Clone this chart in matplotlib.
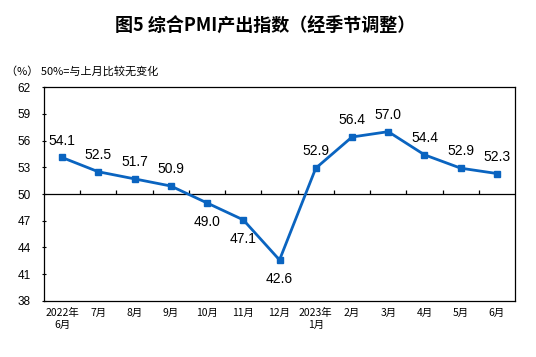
import matplotlib.pyplot as plt
import numpy as np

plt.rcParams['font.family'] = ['Liberation Sans', 'Noto Sans CJK SC', 'DejaVu Sans']

months = ['2022年\n6月', '7月', '8月', '9月', '10月', '11月', '12月',
          '2023年\n1月', '2月', '3月', '4月', '5月', '6月']
pmi = [54.1, 52.5, 51.7, 50.9, 49.0, 47.1, 42.6, 52.9, 56.4, 57.0, 54.4, 52.9, 52.3]
yticks = [38, 41, 44, 47, 50, 53, 56, 59, 62]

fig = plt.figure(figsize=(5.36, 3.57), dpi=100)
ax = fig.add_axes([0.082, 0.157, 0.879, 0.599])
x = np.arange(len(pmi))
blue = '#0a64c0'

ax.plot(x, pmi, color=blue, lw=2, marker='s', ms=5, zorder=3)
ax.axhline(50, color='black', lw=0.9, zorder=2)
# small tick marks on the 50 line between months
ax.vlines(x[:-1] + 0.5, 50, 50.45, color='black', lw=0.9, zorder=2)

for i, v in enumerate(pmi):
    if v < 50:
        ax.annotate(f'{v:.1f}', (i, v), xytext=(0, -9), textcoords='offset points',
                    ha='center', va='top', fontsize=10)
    else:
        ax.annotate(f'{v:.1f}', (i, v), xytext=(0, 7), textcoords='offset points',
                    ha='center', va='bottom', fontsize=10)

ax.set_xlim(-0.5, len(pmi) - 0.5)
ax.set_ylim(38, 62)
ax.set_yticks(yticks)
ax.set_yticklabels([str(t) for t in yticks], fontsize=8.5)
ax.set_xticks(x)
ax.set_xticklabels(months, fontsize=7.5, family=['Noto Sans CJK SC'], linespacing=1.3)
ax.tick_params(axis='x', length=0, pad=5)
ax.tick_params(axis='y', length=3, direction='inout', pad=8)
for s in ax.spines.values():
    s.set_linewidth(0.9)

fig.text(0.495, 0.928, '图5 综合PMI产出指数（经季节调整）', ha='center', va='center',
         fontsize=13, fontweight='bold', family=['Noto Sans CJK SC'])
fig.text(0.012, 0.8, '（%） 50%=与上月比较无变化', ha='left', va='center',
         fontsize=8, family=['Noto Sans CJK SC'])

fig.savefig('out.png', dpi=100)
